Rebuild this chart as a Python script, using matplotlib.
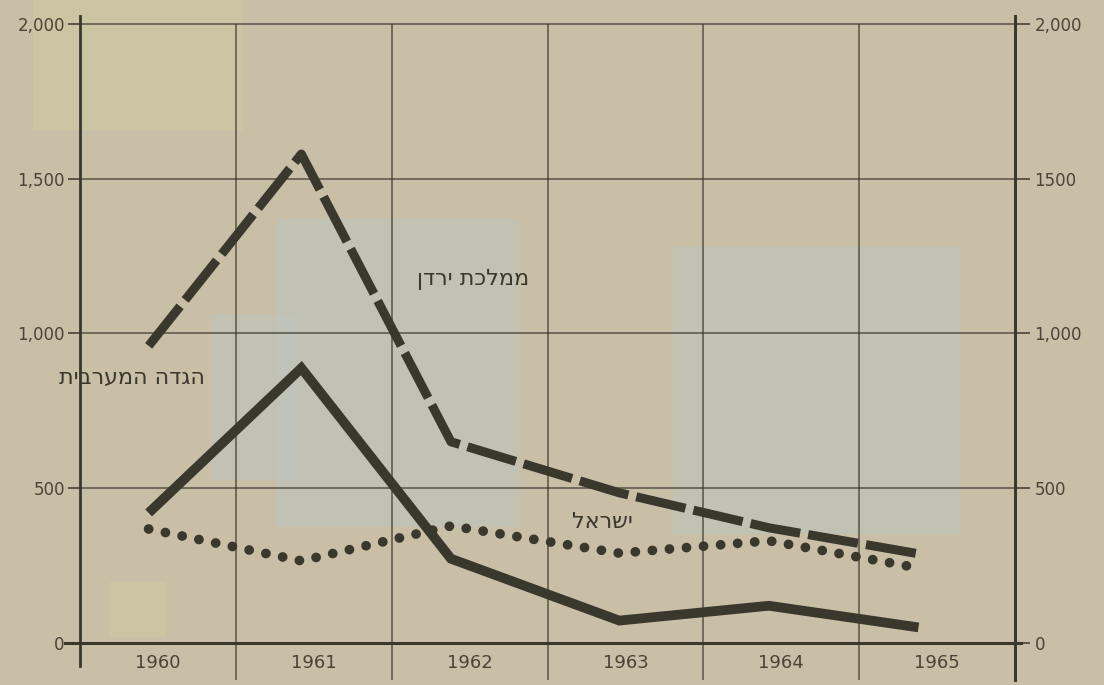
import matplotlib.pyplot as plt
from matplotlib.patches import Rectangle

# Data
years = ['1960', '1961', '1962', '1963', '1964', '1965']
year_pos = [0.44, 1.42, 2.38, 3.46, 4.42, 5.38]   # where the points sit inside each year column
jordan = [960, 1580, 650, 485, 372, 288]        # ממלכת ירדן (dashed)
west_bank = [420, 888, 272, 72, 120, 50]        # הגדה המערבית (solid)
israel = [368, 265, 378, 290, 330, 242]         # ישראל (dotted)

left_ticks = [0, 500, 1000, 1500, 2000]
left_labels = ['0', '500', '1,000', '1,500', '2,000']
right_labels = ['0', '500', '1,000', '1500', '2,000']

bg = '#c9bea6'
ink = '#3a372d'
text_col = '#4a4438'

def heb(s):
    # matplotlib has no bidi support: reverse for right-to-left display
    return s[::-1]

fig = plt.figure(figsize=(11.04, 6.85), dpi=100, facecolor=bg)

# faint patches of the printed background
for (x, y, w, h, c) in [(0.03, 0.81, 0.19, 0.19, '#cdc7a4'),
                        (0.25, 0.23, 0.22, 0.45, '#c0c4b8'),
                        (0.19, 0.30, 0.08, 0.24, '#c0c4b8'),
                        (0.61, 0.22, 0.26, 0.42, '#c0c4b8'),
                        (0.10, 0.07, 0.05, 0.08, '#cdc7a4')]:
    fig.patches.append(Rectangle((x, y), w, h, transform=fig.transFigure,
                                 color=c, zorder=-5, lw=0, alpha=0.8))

ax = fig.add_axes([0.0725, 0.0073, 0.847, 0.9693])
ax.set_facecolor('none')
ax.set_xlim(0, 6)
ax.set_ylim(-120, 2026)

# grid
for v in left_ticks[1:]:
    ax.axhline(v, color=ink, lw=1.1, alpha=0.8, zorder=1)
ax.vlines(range(1, 6), -120, 2000, color=ink, lw=1.1, alpha=0.8, zorder=1)
ax.axhline(0, xmin=-0.016, xmax=1.006, color=ink, lw=2.2, clip_on=False, zorder=2)

# series
ax.plot(year_pos, jordan, color=ink, lw=6.5, dashes=(5.6, 0.9),
        dash_capstyle='butt', solid_joinstyle='miter', zorder=4)
ax.plot(year_pos, west_bank, color=ink, lw=7, solid_joinstyle='miter',
        solid_capstyle='butt', zorder=4)
ax.plot(year_pos, israel, color=ink, lw=7, dashes=(0.01, 1.75),
        dash_capstyle='round', zorder=4)

# labels of the lines
ax.text(2.52, 1173, heb('ממלכת ירדן'), fontsize=16, color=ink,
        ha='center', va='center', family='DejaVu Sans')
ax.text(0.80, 856, heb('הגדה המערבית'), fontsize=16, color=ink,
        ha='right', va='center', family='DejaVu Sans')
ax.text(3.35, 391, heb('ישראל'), fontsize=16, color=ink,
        ha='center', va='center', family='DejaVu Sans')

# year labels
for i, yr in enumerate(years):
    ax.text(i + 0.5, -65, yr, fontsize=13, color=text_col, ha='center', va='center')

# axes
for s in ['top', 'bottom']:
    ax.spines[s].set_visible(False)
ax.spines['left'].set_bounds(-75, 2026)
for s in ['left', 'right']:
    ax.spines[s].set_color(ink)
    ax.spines[s].set_linewidth(2)
ax.set_xticks([])
ax.set_yticks(left_ticks)
ax.set_yticklabels(left_labels)
ax.tick_params(axis='y', direction='out', length=9, width=1.1, color=ink,
               labelsize=12, labelcolor=text_col, pad=2)

ax2 = ax.twinx()
ax2.set_ylim(ax.get_ylim())
ax2.set_yticks(left_ticks)
ax2.set_yticklabels(right_labels)
for s in ['top', 'bottom', 'left']:
    ax2.spines[s].set_visible(False)
ax2.spines['right'].set_color(ink)
ax2.spines['right'].set_linewidth(2)
ax2.tick_params(axis='y', direction='out', length=11, width=1.1, color=ink,
                labelsize=12, labelcolor=text_col, pad=3)

fig.savefig('out.png', dpi=100, facecolor=bg)
